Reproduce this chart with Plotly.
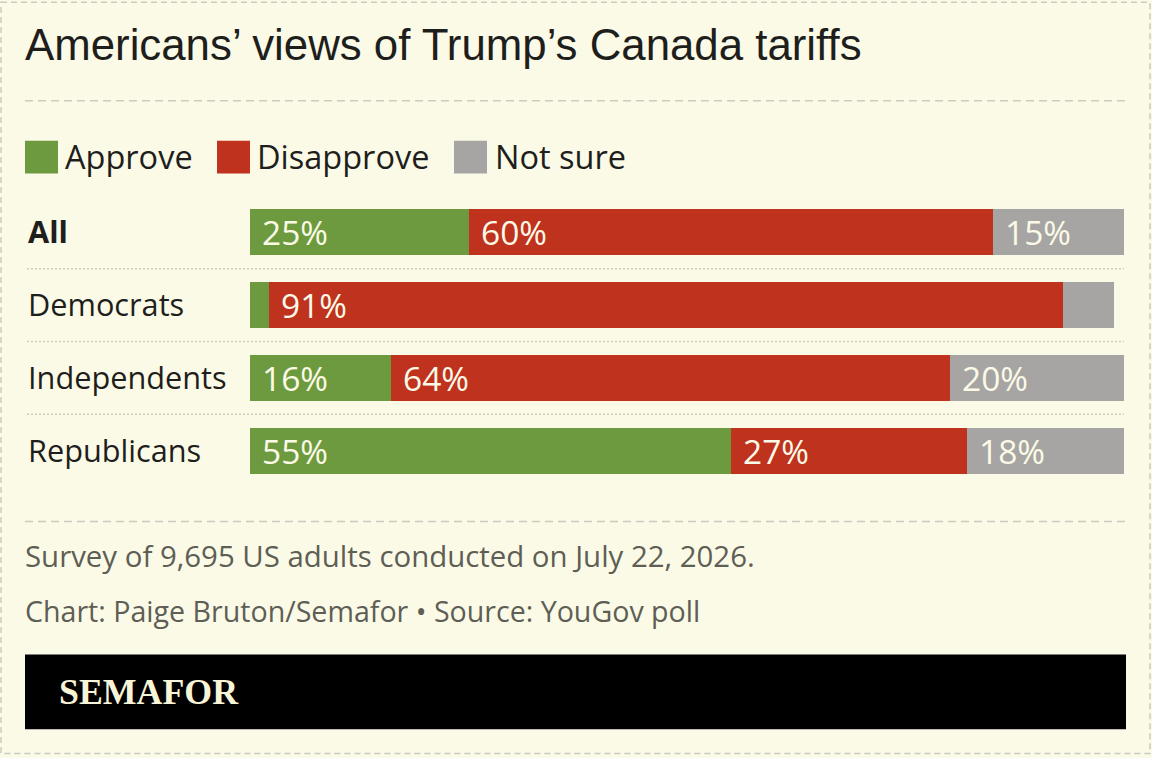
import plotly.graph_objects as go

categories = ["All", "Democrats", "Independents", "Republicans"]
approve = [25, 2.2, 16.1, 55]
disapprove = [60, 90.8, 64, 27]
not_sure = [15, 5.9, 19.9, 18]
approve_labels = ["25%", None, "16%", "55%"]
disapprove_labels = ["60%", "91%", "64%", "27%"]
not_sure_labels = ["15%", None, "20%", "18%"]
series_names = ["Approve", "Disapprove", "Not sure"]
title_text = "Americans’ views of Trump’s Canada tariffs"
note_text = "Survey of 9,695 US adults conducted on July 22, 2026."
credit_text = "Chart: Paige Bruton/Semafor • Source: YouGov poll"
brand_text = "SEMAFOR"

W, H = 1152, 758
L, R, T, B = 250, 1124, 195.5, 487.5
BG, GREEN, RED, GREY = "#FBFAE7", "#6E9A3F", "#BE321E", "#A6A5A3"
INK, MUTED, RULE = "#1E1E1C", "#5E5E55", "#CBCBC0"
BODY = "Open Sans"


def fy(v):
    return (B - v) / (B - T)


def fx(v):
    return (v - L) / (R - L)


def rect(x0, y0, x1, y1, **kw):
    return dict(type="rect", xref="paper", yref="paper", x0=fx(x0), x1=fx(x1), y0=fy(y0), y1=fy(y1), **kw)


def hline(x0, x1, y, dash, color=RULE, width=1.5):
    return dict(type="line", xref="paper", yref="paper", x0=fx(x0), x1=fx(x1), y0=fy(y), y1=fy(y),
                line=dict(color=color, width=width, dash=dash))


def text(x, y, s, size, color, family=BODY, anchor="left", weight=None, **kw):
    return dict(xref="paper", yref="paper", x=fx(x - 2), y=fy(y), text=s, showarrow=False, xanchor=anchor,
                yanchor="middle", font=dict(size=size, color=color, family=family, weight=weight), align="left", **kw)


fig = go.Figure()
for name, vals, color in zip(series_names, [approve, disapprove, not_sure], [GREEN, RED, GREY]):
    fig.add_trace(go.Bar(y=categories, x=vals, name=name, orientation="h", marker=dict(color=color, line_width=0),
                         showlegend=False, hoverinfo="name+x"))

shapes = [
    rect(1, 1, 1150, 755, line=dict(color=RULE, width=1.5, dash="6px,4px"), layer="below"),
    hline(25, 1126, 100, "8px,5px"),
    hline(25, 1126, 522, "8px,5px"),
    hline(27, 1124, 268.5, "2px,2px", width=1.5),
    hline(27, 1124, 341.5, "2px,2px", width=1.5),
    hline(27, 1124, 414.5, "2px,2px", width=1.5),
    rect(25, 655.5, 1126, 730.5, fillcolor="#000000", line_width=0),
]
anns = [
    text(25, 43, title_text, 43.8, INK, family="Liberation Sans"),
    text(25, 557, note_text, 29.4, MUTED),
    text(25, 611, credit_text, 28.6, MUTED),
    text(59, 693, "<b>" + brand_text + "</b>", 35.8, "#F8F4D8", family="Liberation Serif"),
]

legend_x = [(65, 25), (257, 217), (495, 454)]
for name, color, (tx, sx) in zip(series_names, [GREEN, RED, GREY], legend_x):
    shapes.append(rect(sx, 140, sx + 33, 173, fillcolor=color, line_width=0))
    anns.append(text(tx, 156, name, 32.5, INK, weight=500))

for i, cat in enumerate(categories):
    anns.append(dict(xref="paper", yref="y", x=fx(25.5), y=cat, text=f"<b>{cat}</b>" if i == 0 else cat,
                     showarrow=False, xanchor="left", yanchor="middle", yshift=1,
                     font=dict(size=30.7, color=INK, family=BODY)))
    start = 0
    for v, lab in zip((approve[i], disapprove[i], not_sure[i]),
                      (approve_labels[i], disapprove_labels[i], not_sure_labels[i])):
        if lab:
            anns.append(dict(xref="x", yref="y", x=start, y=cat, text=lab, showarrow=False, xanchor="left",
                             xshift=10, yanchor="middle", font=dict(size=33.5, color="#FBFAE7", family=BODY)))
        start += v

fig.update_layout(
    width=W, height=H, barmode="stack", bargap=27 / 73, paper_bgcolor=BG, plot_bgcolor=BG,
    margin=dict(l=L, r=W - R, t=T, b=H - B, pad=0, autoexpand=False), showlegend=False,
    xaxis=dict(range=[0, 100], visible=False, fixedrange=True),
    yaxis=dict(categoryorder="array", categoryarray=categories, autorange="reversed", visible=False, fixedrange=True),
    shapes=shapes, annotations=anns,
)
fig.write_html("out.html", config={"displayModeBar": False},
               post_script="document.body.style.margin='0';document.body.style.background='#FBFAE7';")
